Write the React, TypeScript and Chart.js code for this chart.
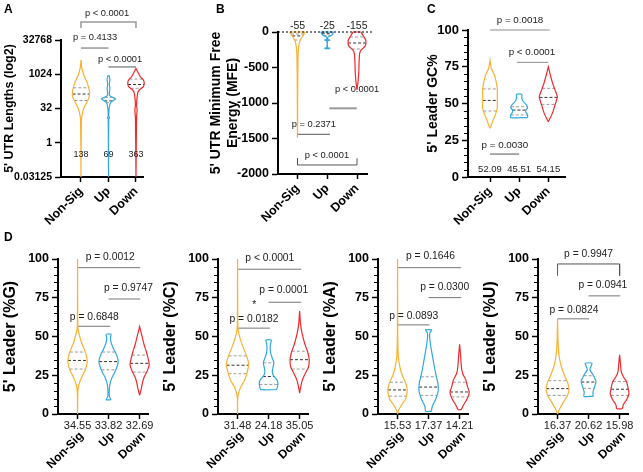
import React, { useEffect, useRef } from 'react';
import { Chart, registerables } from 'chart.js';
Chart.register(...registerables);

const FONT = '"Liberation Sans", Arial, Helvetica, sans-serif';
const COLORS = ['#F9B132', '#2FA8E0', '#EE2A2E'];

// ---------- shared ----------
const categories = ['Non-Sig', 'Up', 'Down'];

// ---------- A: 5' UTR lengths (log2) ----------
const lenTicks = [0.03125, 1, 32, 1024, 32768];
const lenMedians = [138, 69, 363];
const lenQuartiles = [[72, 260], [58, 100], [247, 630]];
const lenNonSig = [[0.03125, 0], [9.85, 0.015], [19.7, 0.05], [32, 0.1], [64, 0.22], [104, 0.3], [175, 0.31], [294, 0.27], [478, 0.21], [955, 0.1], [1911, 0.03], [4390, 0]];
const lenUp = [[0.03125, 0], [11.3, 0.01], [12.6, 0.04], [14.9, 0.01], [27.9, 0.02], [48.5, 0.05], [64, 0.11], [84.4, 0.26], [104, 0.1], [128, 0.03], [247, 0.05], [362, 0.03], [588, 0.05], [891, 0.02]];
const lenDown = [[0.03125, 0], [11.9, 0.02], [27.9, 0.04], [45, 0.02], [147, 0.06], [208, 0.12], [290, 0.27], [410, 0.3], [572, 0.27], [798, 0.16], [1351, 0.06], [1871, 0]];
const lenPValues = ['p < 0.0001', 'p = 0.4133', 'p < 0.0001'];

// ---------- B: 5' UTR MFE ----------
const mfeTicks = [-2000, -1500, -1000, -500, 0];
const mfeMedians = [-55, -25, -155];
const mfeQuartiles = [[-113, -28], [-50, -10], [-240, -70]];
const mfeNonSig = [[-1490, 0], [-600, 0.01], [-324, 0.02], [-230, 0.035], [-136, 0.07], [-66, 0.16], [-20, 0.23], [0, 0.25]];
const mfeUp = [[-235, 0.08], [-228, 0.08], [-226, 0.015], [-120, 0.015], [-118, 0.08], [-110, 0.08], [-108, 0.015], [-70, 0.03], [-45, 0.15], [-20, 0.19], [0, 0.21]];
const mfeDown = [[-817, 0], [-700, 0.035], [-559, 0.06], [-418, 0.07], [-300, 0.09], [-253, 0.14], [-206, 0.26], [-160, 0.3], [-113, 0.29], [-66, 0.23], [-20, 0.16], [0, 0.14]];
const mfePValues = ['p < 0.0001', 'p = 0.2371', 'p < 0.0001'];

// ---------- C: 5' leader GC% ----------
const pctTicks = [0, 25, 50, 75, 100];
const gcMedians = [52.09, 45.51, 54.15];
const gcQuartiles = [[44.9, 59.9], [42.2, 47.8], [49.4, 60.3]];
const gcNonSig = [[33.1, 0], [35.4, 0.045], [38.8, 0.11], [43.3, 0.2], [46.7, 0.25], [53.5, 0.25], [60.3, 0.25], [64.8, 0.21], [69.4, 0.15], [74, 0.045], [79.6, 0]];
const gcUp = [[40.4, 0.29], [42.2, 0.29], [44, 0.23], [45.6, 0.23], [47.2, 0.29], [49, 0.25], [51.2, 0.15], [53.5, 0.09], [56.3, 0.09]];
const gcDown = [[37.6, 0], [43.3, 0.14], [49, 0.23], [54.6, 0.31], [60.3, 0.21], [63.7, 0.15], [69.4, 0.07], [75, 0]];
const gcPValues = ['p = 0.0018', 'p < 0.0001', 'p = 0.0030'];

// ---------- D: %G ----------
const gMedians = [34.55, 33.82, 32.69];
const gQuartiles = [[29, 40], [28.5, 40], [27, 38]];
const gNonSig = [[0, 0], [12, 0.005], [16.7, 0.02], [20, 0.06], [24, 0.14], [28, 0.24], [31, 0.29], [34.5, 0.31], [38, 0.28], [42, 0.21], [46, 0.13], [50, 0.07], [54.3, 0.02], [58, 0.005], [100, 0]];
const gUp = [[9.2, 0.08], [11, 0.03], [14, 0.02], [19, 0.04], [23, 0.1], [27, 0.2], [31, 0.28], [34, 0.31], [38, 0.26], [42, 0.16], [46, 0.08], [49, 0.06], [51.5, 0.08]];
const gDown = [[12, 0], [16, 0.05], [20, 0.09], [24, 0.15], [28, 0.25], [32, 0.31], [36, 0.27], [40, 0.22], [45, 0.14], [50, 0.08], [56.4, 0]];
const gPValues = ['p = 0.0012', 'p = 0.9747', 'p = 0.6848'];

// ---------- D: %C ----------
const cMedians = [31.48, 24.18, 35.05];
const cQuartiles = [[26, 37.5], [19, 33], [29, 40.5]];
const cNonSig = [[0, 0], [10.3, 0.005], [14, 0.04], [18, 0.12], [22, 0.23], [27, 0.31], [32, 0.36], [37, 0.3], [42, 0.2], [47, 0.11], [51, 0.05], [55, 0.015], [60, 0.005], [100, 0]];
const cUp = [[15.7, 0.25], [17, 0.28], [19.5, 0.3], [22, 0.27], [25, 0.15], [27.5, 0.12], [30, 0.14], [33, 0.17], [36, 0.12], [39, 0.07], [43, 0.05], [46, 0.07], [47.8, 0.09]];
const cDown = [[13.5, 0], [18, 0.04], [22, 0.09], [26, 0.18], [30, 0.28], [35, 0.31], [40, 0.26], [45, 0.17], [52, 0.08], [58, 0.03], [66.5, 0]];
const cPValues = ['p < 0.0001', 'p = 0.0001', 'p = 0.0182'];

// ---------- D: %A ----------
const aMedians = [15.53, 17.37, 14.21];
const aQuartiles = [[11.5, 20.5], [12, 24], [11, 20.5]];
const aNonSig = [[0, 0], [1.7, 0.02], [5, 0.1], [9, 0.24], [13, 0.3], [16, 0.31], [20, 0.26], [25, 0.15], [30, 0.08], [36, 0.03], [45, 0.01], [55, 0.004], [100, 0]];
const aUp = [[1.7, 0.09], [5, 0.12], [10, 0.24], [15, 0.31], [20, 0.3], [25, 0.24], [30, 0.19], [38, 0.12], [45, 0.06], [51, 0.03], [53, 0.06], [54.3, 0.1]];
const aDown = [[2.8, 0.05], [6, 0.13], [10, 0.25], [14, 0.31], [18, 0.25], [22, 0.2], [26, 0.1], [30, 0.06], [38, 0.03], [45, 0]];
const aPValues = ['p = 0.1646', 'p = 0.0300', 'p = 0.0893'];

// ---------- D: %U ----------
const uMedians = [16.37, 20.62, 15.98];
const uQuartiles = [[12, 21.5], [16.5, 24.7], [12, 21]];
const uNonSig = [[0, 0], [3, 0.06], [8, 0.2], [12, 0.32], [16, 0.37], [20, 0.33], [25, 0.22], [30, 0.13], [35, 0.07], [40, 0.035], [50, 0.01], [61.4, 0]];
const uUp = [[11.4, 0.15], [14, 0.14], [18, 0.2], [21, 0.24], [25, 0.15], [28.5, 0.04], [30, 0.06], [32.8, 0.11]];
const uDown = [[3.4, 0.09], [6, 0.12], [9, 0.22], [13, 0.3], [17, 0.27], [21, 0.22], [24, 0.12], [27.5, 0.05], [32, 0.03], [38.2, 0]];
const uPValues = ['p = 0.9947', 'p = 0.0941', 'p = 0.0824'];

// ---------- layout (positions of annotation brackets etc.) ----------
const GRAY = '#8c8c8c';
const DARK = '#555';

const specs: any[] = [
  {
    letter: 'A', letterPos: [4, 2],
    box: { x: 0, y: 0, w: 205, h: 225 }, area: { l: 61, t: 40, r: 143, b: 177 },
    xMin: -0.727, xMax: 2.255, yType: 'logarithmic', yMin: 0.03125, yMax: 32768, yTicks: lenTicks,
    title: "5' UTR Lengths (log2)", titleSize: 12.5, titlePad: 2.5, tickSize: 10.5, xSize: 12.5,
    xPad: 2, xOffset: 0,
    numY: 0.29, numSize: 9, pSize: 9.3,
    violins: [lenNonSig, lenUp, lenDown], medians: lenMedians, quartiles: lenQuartiles, pValues: lenPValues,
    brackets: [
      { x1: 0, x2: 2, y: 202000, end: 110000, tx: 0.945, ty: 502000, color: '#999', width: 1.5 },
      { x1: 0, x2: 1, y: 14500, tx: 0.51, ty: 44400, color: '#999', width: 1.5 },
      { x1: 1, x2: 2, y: 2140, tx: 1.42, ty: 4800, color: DARK, width: 1 },
    ],
  },
  {
    letter: 'B', letterPos: [216, 2],
    box: { x: 203, y: 0, w: 212, h: 225 }, area: { l: 278, t: 32, r: 367, b: 174 },
    xMin: -0.655, xMax: 2.336, yType: 'linear', yMin: -2000, yMax: 0, yTicks: mfeTicks,
    title: ["5' UTR Minimum Free", 'Energy (MFE)'], titleSize: 14, titlePad: 4.5, tickSize: 12.5, xSize: 12.5,
    xPad: 2, xOffset: 0,
    numY: 84.5, numSize: 10.5, pSize: 9.3, zeroLine: 2.54,
    violins: [mfeNonSig, mfeUp, mfeDown], medians: mfeMedians, quartiles: mfeQuartiles, pValues: mfePValues,
    brackets: [
      { x1: 1.07, x2: 1.99, y: -1075, tx: 2.0, ty: -803, color: '#999', width: 2 },
      { x1: 0, x2: 1.09, y: -1441, tx: 0.55, ty: -1296, color: DARK, width: 1 },
      { x1: 0, x2: 2, y: -1873, end: -1779, tx: 0.99, ty: -1742, color: DARK, width: 1 },
    ],
  },
  {
    letter: 'C', letterPos: [427, 2],
    box: { x: 420, y: 0, w: 223, h: 225 }, area: { l: 468, t: 30, r: 565, b: 177 },
    xMin: -0.755, xMax: 2.573, yType: 'linear', yMin: 0, yMax: 100, yTicks: pctTicks, minor: 5,
    title: "5' Leader GC%", titleSize: 14, titlePad: 4.6, tickSize: 13, xSize: 12.5,
    xPad: 2, xOffset: 0,
    numY: 5.4, numSize: 9.5, pSize: 9.8,
    violins: [gcNonSig, gcUp, gcDown], medians: gcMedians, quartiles: gcQuartiles, pValues: gcPValues,
    brackets: [
      { x1: 0, x2: 2.05, y: 100, tx: 1.03, ty: 106.8, color: GRAY, width: 1 },
      { x1: 0.93, x2: 2, y: 78, tx: 1.44, ty: 84.6, color: GRAY, width: 1 },
      { x1: 0, x2: 1, y: 15.6, tx: 0.51, ty: 21.8, color: DARK, width: 1 },
    ],
  },
];

const dRows = [
  { title: "5' Leader (%G)", violins: [gNonSig, gUp, gDown], medians: gMedians, quartiles: gQuartiles, pValues: gPValues,
    brackets: [
      { x1: 0, x2: 2.02, y: 94.4, tx: 1.05, ty: 101.1 },
      { x1: 1, x2: 2.02, y: 74.2, tx: 1.64, ty: 81.5 },
      { x1: 0, x2: 1.05, y: 56.6, tx: 0.54, ty: 62.5 },
    ] },
  { title: "5' Leader (%C)", violins: [cNonSig, cUp, cDown], medians: cMedians, quartiles: cQuartiles, pValues: cPValues,
    brackets: [
      { x1: 0, x2: 2.05, y: 93.4, tx: 1.04, ty: 100.5 },
      { x1: 1, x2: 2.05, y: 72.1, tx: 1.49, ty: 79.6 },
      { x1: 0, x2: 1.04, y: 55.4, tx: 0.53, ty: 61.4 },
    ], extras: [{ text: '*', x: 0.54, y: 70.5 }] },
  { title: "5' Leader (%A)", violins: [aNonSig, aUp, aDown], medians: aMedians, quartiles: aQuartiles, pValues: aPValues,
    brackets: [
      { x1: 0, x2: 2.05, y: 94.4, tx: 1.06, ty: 101.9 },
      { x1: 1, x2: 2.05, y: 75.1, tx: 1.52, ty: 81.8 },
      { x1: 0, x2: 1.03, y: 57.5, tx: 0.52, ty: 63.3 },
    ] },
  { title: "5' Leader (%U)", violins: [uNonSig, uUp, uDown], medians: uMedians, quartiles: uQuartiles, pValues: uPValues,
    brackets: [
      { x1: 0, x2: 2, y: 96.8, end: 89.2, tx: 1.0, ty: 103, color: DARK },
      { x1: 1, x2: 2.02, y: 76.2, tx: 1.46, ty: 83.3 },
      { x1: 0, x2: 1.02, y: 61.4, tx: 0.53, ty: 67.2 },
    ] },
];

dRows.forEach((d, i) => {
  const bx = i * 160;
  specs.push({
    letter: i === 0 ? 'D' : '', letterPos: [4, 230],
    box: { x: bx, y: 225, w: i === 3 ? 163 : 160, h: 247 }, area: { l: bx + 58, t: 259, r: bx + 148, b: 414 },
    xMin: -0.63, xMax: 2.27, yType: 'linear', yMin: 0, yMax: 100, yTicks: pctTicks, minor: 5,
    titleSize: 16, titlePad: 0.5, tickSize: 12.5, xSize: 12,
    xPad: 10, xOffset: 4,
    numY: -8, numSize: 11, pSize: 10.3,
    ...d,
    brackets: d.brackets.map((b: any) => ({ color: '#777', width: 1, ...b })),
  });
});

// ---------- helpers ----------
function violinPath(c: number, prof: number[][]) {
  const right = prof.map(([y, w]) => ({ x: c + w, y }));
  const left = prof.slice().reverse().map(([y, w]) => ({ x: c - w, y }));
  return [...right, ...left, right[0]];
}

function widthAt(prof: number[][], y: number, log: boolean) {
  const f = (v: number) => (log ? Math.log2(v) : v);
  const t = f(y);
  for (let i = 0; i < prof.length - 1; i++) {
    const a = f(prof[i][0]);
    const b = f(prof[i + 1][0]);
    if (t >= a && t <= b) {
      const r = b === a ? 0 : (t - a) / (b - a);
      return prof[i][1] + r * (prof[i + 1][1] - prof[i][1]);
    }
  }
  return 0;
}

function buildConfig(s: any) {
  const log = s.yType === 'logarithmic';
  const datasets: any[] = [];
  if (s.zeroLine !== undefined) {
    datasets.push({ data: [{ x: s.xMin, y: 0 }, { x: s.zeroLine, y: 0 }], borderColor: '#000', borderWidth: 1, borderDash: [2, 2], tension: 0 });
  }
  s.violins.forEach((prof: number[][], i: number) => {
    datasets.push({ data: violinPath(i, prof), borderColor: COLORS[i], borderWidth: 1.2, tension: 0.2 });
    const qs = [s.quartiles[i][0], s.medians[i], s.quartiles[i][1]];
    qs.forEach((q: number, k: number) => {
      const w = widthAt(prof, q, log);
      datasets.push({ data: [{ x: i - w, y: q }, { x: i + w, y: q }], borderColor: k === 1 ? '#333' : '#9a9a9a', borderWidth: 1, borderDash: [3, 2], tension: 0 });
    });
  });
  s.brackets.forEach((b: any) => {
    const pts = b.end !== undefined
      ? [{ x: b.x1, y: b.end }, { x: b.x1, y: b.y }, { x: b.x2, y: b.y }, { x: b.x2, y: b.end }]
      : [{ x: b.x1, y: b.y }, { x: b.x2, y: b.y }];
    datasets.push({ data: pts, borderColor: b.color || GRAY, borderWidth: b.width || 1, tension: 0 });
  });
  datasets.forEach((d) => { d.clip = false; d.pointRadius = 0; d.fill = false; });

  const annot = {
    id: 'annot',
    afterDatasetsDraw(chart: any) {
      const ctx = chart.ctx;
      const xs = chart.scales.x;
      const ys = chart.scales.y;
      ctx.save();
      ctx.fillStyle = '#222';
      ctx.textAlign = 'center';
      ctx.textBaseline = 'middle';
      ctx.font = `${s.numSize}px ${FONT}`;
      s.medians.forEach((m: number, i: number) => ctx.fillText(String(m), xs.getPixelForValue(i), ys.getPixelForValue(s.numY)));
      ctx.font = `${s.pSize}px ${FONT}`;
      s.brackets.forEach((b: any, i: number) => ctx.fillText(s.pValues[i], xs.getPixelForValue(b.tx), ys.getPixelForValue(b.ty)));
      (s.extras || []).forEach((e: any) => ctx.fillText(e.text, xs.getPixelForValue(e.x), ys.getPixelForValue(e.y)));
      if (s.minor) {
        ctx.strokeStyle = '#000';
        ctx.lineWidth = 1;
        const left = chart.chartArea.left;
        for (let v = s.yMin; v <= s.yMax; v += s.minor) {
          if (s.yTicks.includes(v)) continue;
          const py = Math.round(ys.getPixelForValue(v)) + 0.5;
          ctx.beginPath();
          ctx.moveTo(left - 4, py);
          ctx.lineTo(left, py);
          ctx.stroke();
        }
      }
      ctx.restore();
    },
  };

  return {
    type: 'line',
    data: { datasets },
    options: {
      animation: false,
      responsive: false,
      maintainAspectRatio: false,
      layout: { padding: { left: 0, top: s.area.t - s.box.y, right: s.box.x + s.box.w - s.area.r, bottom: 0 } },
      plugins: { legend: { display: false }, tooltip: { enabled: false }, title: { display: false } },
      elements: { point: { radius: 0 } },
      scales: {
        x: {
          type: 'linear', min: s.xMin, max: s.xMax,
          afterBuildTicks: (sc: any) => { sc.ticks = [0, 1, 2].map((value) => ({ value })); },
          afterFit: (sc: any) => {
            sc.height = s.box.y + s.box.h - s.area.b;
            sc.paddingLeft = 0; sc.paddingRight = 0; sc.paddingTop = 0; sc.paddingBottom = 0;
          },
          grid: { drawOnChartArea: false, drawTicks: true, tickLength: 5, tickColor: '#000', tickWidth: 1.5 },
          border: { display: true, color: '#000', width: 2 },
          ticks: {
            callback: (v: number) => categories[v] ?? '',
            font: { family: FONT, size: s.xSize, weight: 'bold' }, color: '#000',
            minRotation: 45, maxRotation: 45, autoSkip: false, padding: s.xPad, labelOffset: s.xOffset,
          },
        },
        y: {
          type: s.yType, min: s.yMin, max: s.yMax,
          afterBuildTicks: (sc: any) => { sc.ticks = s.yTicks.map((value: number) => ({ value })); },
          afterFit: (sc: any) => {
            sc.width = s.area.l - s.box.x;
            sc.paddingTop = 0; sc.paddingBottom = 0;
          },
          grid: { drawOnChartArea: false, drawTicks: true, tickLength: 6, tickColor: '#000', tickWidth: 1.5 },
          border: { display: true, color: '#000', width: 2 },
          ticks: {
            callback: (v: number) => String(v),
            font: { family: FONT, size: s.tickSize, weight: 'bold' }, color: '#000', padding: 3, autoSkip: false,
          },
          title: {
            display: true, text: s.title, color: '#000',
            font: { family: FONT, size: s.titleSize, weight: 'bold' },
            padding: { top: s.titlePad, bottom: 0 },
          },
        },
      },
    },
    plugins: [annot],
  };
}

function Panel({ spec }: { spec: any }) {
  const ref = useRef<HTMLCanvasElement>(null);
  useEffect(() => {
    const chart = new Chart(ref.current as HTMLCanvasElement, buildConfig(spec) as any);
    return () => chart.destroy();
  }, [spec]);
  return (
    <canvas
      ref={ref}
      width={spec.box.w}
      height={spec.box.h}
      style={{ position: 'absolute', left: spec.box.x, top: spec.box.y, width: spec.box.w, height: spec.box.h }}
    />
  );
}

export default function App() {
  return (
    <div style={{ position: 'fixed', left: 0, top: 0, width: 643, height: 472, background: '#fff', overflow: 'hidden' }}>
      {specs.map((s, i) => (
        <Panel key={i} spec={s} />
      ))}
      {specs.filter((s) => s.letter).map((s, i) => (
        <div key={'l' + i} style={{ position: 'absolute', left: s.letterPos[0], top: s.letterPos[1], font: `bold 12px ${FONT}`, color: '#000' }}>
          {s.letter}
        </div>
      ))}
    </div>
  );
}
